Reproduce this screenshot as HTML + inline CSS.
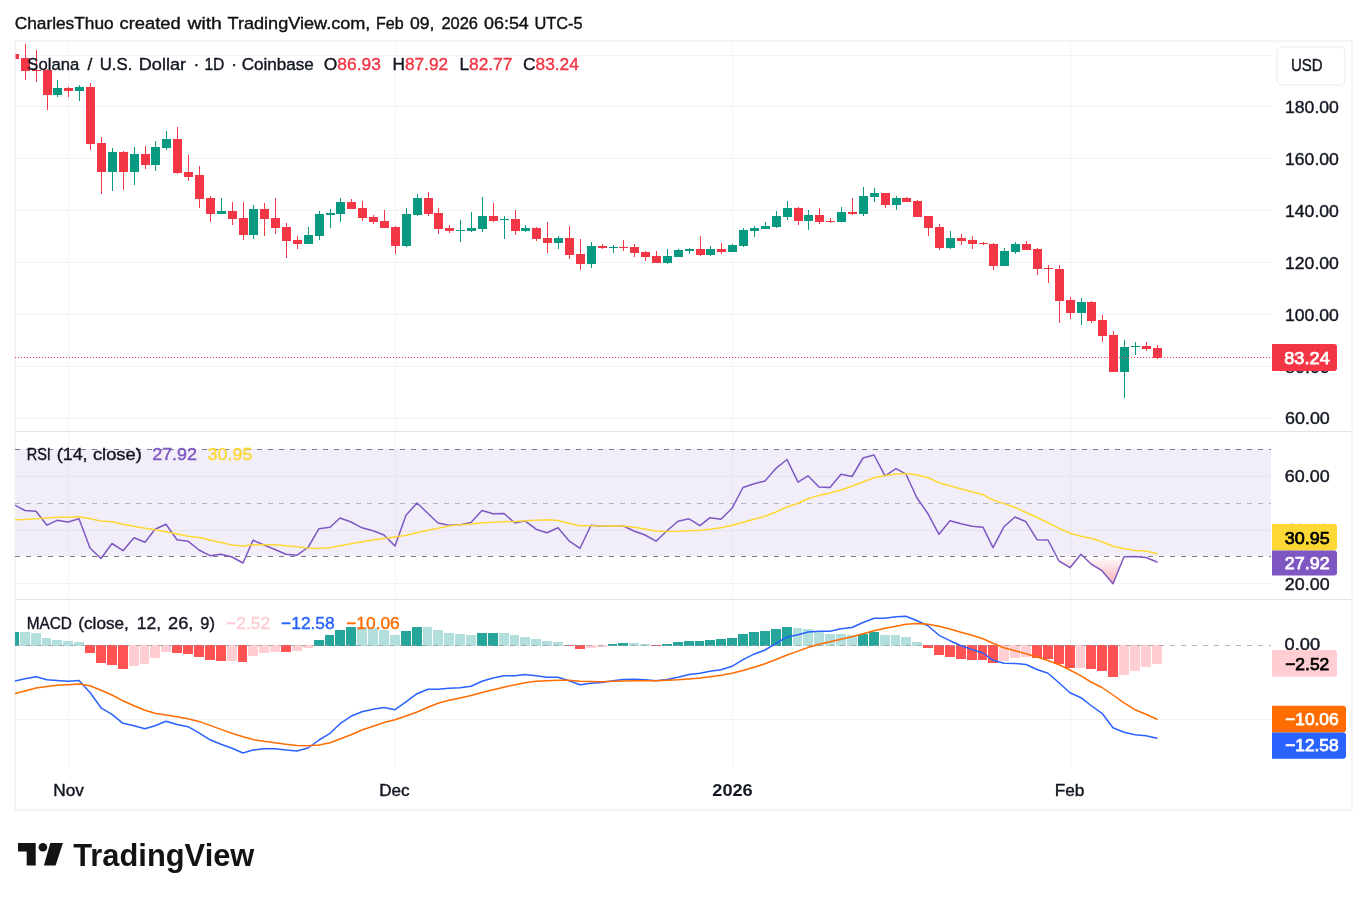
<!DOCTYPE html>
<html lang="en"><head><meta charset="utf-8"><title>SOLUSD chart</title><style>html,body{margin:0;padding:0;background:#fff}svg{display:block}</style></head><body>
<svg width="1367" height="900" viewBox="0 0 1367 900" font-family='"Liberation Sans", sans-serif'>
<defs><linearGradient id="os" x1="0" y1="556" x2="0" y2="586" gradientUnits="userSpaceOnUse"><stop offset="0" stop-color="#f23645" stop-opacity="0"/><stop offset="1" stop-color="#f23645" stop-opacity="0.42"/></linearGradient>
<clipPath id="plot"><rect x="15" y="41" width="1256" height="768"/></clipPath></defs>
<rect width="1367" height="900" fill="#fff"/>
<text y="28.5" font-size="17.4" fill="#111" stroke="#111" stroke-width="0.4"><tspan x="14.7" textLength="99.0" lengthAdjust="spacingAndGlyphs">CharlesThuo</tspan> <tspan x="119.6" textLength="61.1" lengthAdjust="spacingAndGlyphs">created</tspan> <tspan x="187.4" textLength="34.5" lengthAdjust="spacingAndGlyphs">with</tspan> <tspan x="227.5" textLength="142.9" lengthAdjust="spacingAndGlyphs">TradingView.com,</tspan> <tspan x="376.0" textLength="27.7" lengthAdjust="spacingAndGlyphs">Feb</tspan> <tspan x="410.0" textLength="24.5" lengthAdjust="spacingAndGlyphs">09,</tspan> <tspan x="441.4" textLength="36.5" lengthAdjust="spacingAndGlyphs">2026</tspan> <tspan x="484.0" textLength="44.8" lengthAdjust="spacingAndGlyphs">06:54</tspan> <tspan x="534.4" textLength="48.2" lengthAdjust="spacingAndGlyphs">UTC-5</tspan></text>
<rect x="15" y="449" width="1256" height="107" fill="#f2eef9"/>
<g fill="#f2f3f4" shape-rendering="crispEdges">
<rect x="16" y="55" width="1255" height="1"/>
<rect x="16" y="106" width="1255" height="1"/>
<rect x="16" y="158" width="1255" height="1"/>
<rect x="16" y="210" width="1255" height="1"/>
<rect x="16" y="262" width="1255" height="1"/>
<rect x="16" y="314" width="1255" height="1"/>
<rect x="16" y="366" width="1255" height="1"/>
<rect x="16" y="418" width="1255" height="1"/>
<rect x="16" y="476" width="1255" height="1"/>
<rect x="16" y="530" width="1255" height="1"/>
<rect x="16" y="583" width="1255" height="1"/>
<rect x="16" y="719" width="1255" height="1"/>
<rect x="68" y="42" width="1" height="726"/>
<rect x="395" y="42" width="1" height="726"/>
<rect x="732" y="42" width="1" height="726"/>
<rect x="1070" y="42" width="1" height="726"/>
</g>
<g fill="#e6e3ee" shape-rendering="crispEdges">
<rect x="16" y="476" width="1255" height="1"/>
<rect x="16" y="530" width="1255" height="1"/>
<rect x="68" y="449" width="1" height="107"/>
<rect x="395" y="449" width="1" height="107"/>
<rect x="732" y="449" width="1" height="107"/>
<rect x="1070" y="449" width="1" height="107"/>
</g>
<g fill="#e0e3eb" shape-rendering="crispEdges"><rect x="16" y="431" width="1336" height="1"/><rect x="16" y="599" width="1336" height="1"/></g>
<rect x="15" y="41" width="1337" height="769" fill="none" stroke="#f4f4f4" stroke-width="2"/>
<g clip-path="url(#plot)" shape-rendering="crispEdges">
<rect x="15" y="54" width="4" height="5" fill="#f23645"/><rect x="15" y="54" width="1" height="5" fill="#fff" opacity="0.5"/>
<rect x="25" y="44" width="1" height="36" fill="#f23645"/><rect x="21" y="58" width="9" height="13" fill="#f23645"/>
<rect x="36" y="50" width="1" height="32" fill="#f23645"/><rect x="32" y="70" width="9" height="1" fill="#f23645"/>
<rect x="47" y="69" width="1" height="41" fill="#f23645"/><rect x="43" y="70" width="9" height="25" fill="#f23645"/>
<rect x="57" y="80" width="1" height="17" fill="#089981"/><rect x="53" y="88" width="9" height="7" fill="#089981"/>
<rect x="68" y="87" width="1" height="10" fill="#f23645"/><rect x="64" y="88" width="9" height="3" fill="#f23645"/>
<rect x="79" y="85" width="1" height="16" fill="#089981"/><rect x="75" y="87" width="9" height="4" fill="#089981"/>
<rect x="90" y="83" width="1" height="67" fill="#f23645"/><rect x="86" y="87" width="9" height="57" fill="#f23645"/>
<rect x="101" y="137" width="1" height="57" fill="#f23645"/><rect x="97" y="143" width="9" height="29" fill="#f23645"/>
<rect x="112" y="148" width="1" height="43" fill="#089981"/><rect x="108" y="152" width="9" height="20" fill="#089981"/>
<rect x="123" y="151" width="1" height="39" fill="#f23645"/><rect x="119" y="152" width="9" height="20" fill="#f23645"/>
<rect x="134" y="147" width="1" height="38" fill="#089981"/><rect x="130" y="154" width="9" height="18" fill="#089981"/>
<rect x="145" y="146" width="1" height="23" fill="#f23645"/><rect x="141" y="154" width="9" height="11" fill="#f23645"/>
<rect x="155" y="141" width="1" height="30" fill="#089981"/><rect x="151" y="147" width="9" height="18" fill="#089981"/>
<rect x="166" y="131" width="1" height="19" fill="#089981"/><rect x="162" y="139" width="9" height="9" fill="#089981"/>
<rect x="177" y="127" width="1" height="47" fill="#f23645"/><rect x="173" y="139" width="9" height="34" fill="#f23645"/>
<rect x="188" y="155" width="1" height="26" fill="#f23645"/><rect x="184" y="172" width="9" height="5" fill="#f23645"/>
<rect x="199" y="166" width="1" height="42" fill="#f23645"/><rect x="195" y="175" width="9" height="24" fill="#f23645"/>
<rect x="210" y="196" width="1" height="26" fill="#f23645"/><rect x="206" y="198" width="9" height="16" fill="#f23645"/>
<rect x="221" y="198" width="1" height="16" fill="#089981"/><rect x="217" y="211" width="9" height="3" fill="#089981"/>
<rect x="232" y="202" width="1" height="23" fill="#f23645"/><rect x="228" y="211" width="9" height="8" fill="#f23645"/>
<rect x="243" y="202" width="1" height="38" fill="#f23645"/><rect x="239" y="218" width="9" height="17" fill="#f23645"/>
<rect x="253" y="205" width="1" height="34" fill="#089981"/><rect x="249" y="209" width="9" height="26" fill="#089981"/>
<rect x="264" y="203" width="1" height="33" fill="#f23645"/><rect x="260" y="209" width="9" height="10" fill="#f23645"/>
<rect x="275" y="198" width="1" height="36" fill="#f23645"/><rect x="271" y="218" width="9" height="10" fill="#f23645"/>
<rect x="286" y="223" width="1" height="35" fill="#f23645"/><rect x="282" y="227" width="9" height="14" fill="#f23645"/>
<rect x="297" y="236" width="1" height="13" fill="#f23645"/><rect x="293" y="240" width="9" height="4" fill="#f23645"/>
<rect x="308" y="227" width="1" height="17" fill="#089981"/><rect x="304" y="235" width="9" height="9" fill="#089981"/>
<rect x="319" y="211" width="1" height="29" fill="#089981"/><rect x="315" y="214" width="9" height="22" fill="#089981"/>
<rect x="330" y="209" width="1" height="19" fill="#089981"/><rect x="326" y="213" width="9" height="2" fill="#089981"/>
<rect x="340" y="198" width="1" height="24" fill="#089981"/><rect x="336" y="202" width="9" height="12" fill="#089981"/>
<rect x="351" y="199" width="1" height="10" fill="#f23645"/><rect x="347" y="202" width="9" height="7" fill="#f23645"/>
<rect x="362" y="201" width="1" height="20" fill="#f23645"/><rect x="358" y="208" width="9" height="10" fill="#f23645"/>
<rect x="373" y="215" width="1" height="9" fill="#f23645"/><rect x="369" y="217" width="9" height="5" fill="#f23645"/>
<rect x="384" y="210" width="1" height="18" fill="#f23645"/><rect x="380" y="221" width="9" height="7" fill="#f23645"/>
<rect x="395" y="226" width="1" height="28" fill="#f23645"/><rect x="391" y="227" width="9" height="19" fill="#f23645"/>
<rect x="406" y="208" width="1" height="39" fill="#089981"/><rect x="402" y="214" width="9" height="32" fill="#089981"/>
<rect x="417" y="194" width="1" height="22" fill="#089981"/><rect x="413" y="198" width="9" height="17" fill="#089981"/>
<rect x="428" y="192" width="1" height="24" fill="#f23645"/><rect x="424" y="198" width="9" height="16" fill="#f23645"/>
<rect x="438" y="208" width="1" height="26" fill="#f23645"/><rect x="434" y="213" width="9" height="16" fill="#f23645"/>
<rect x="449" y="225" width="1" height="8" fill="#f23645"/><rect x="445" y="228" width="9" height="3" fill="#f23645"/>
<rect x="460" y="220" width="1" height="22" fill="#089981"/><rect x="456" y="230" width="9" height="1" fill="#089981"/>
<rect x="471" y="212" width="1" height="20" fill="#089981"/><rect x="467" y="228" width="9" height="3" fill="#089981"/>
<rect x="482" y="197" width="1" height="35" fill="#089981"/><rect x="478" y="216" width="9" height="13" fill="#089981"/>
<rect x="493" y="203" width="1" height="19" fill="#f23645"/><rect x="489" y="216" width="9" height="5" fill="#f23645"/>
<rect x="504" y="216" width="1" height="23" fill="#089981"/><rect x="500" y="219" width="9" height="1" fill="#089981"/>
<rect x="515" y="210" width="1" height="25" fill="#f23645"/><rect x="511" y="219" width="9" height="12" fill="#f23645"/>
<rect x="525" y="225" width="1" height="7" fill="#089981"/><rect x="521" y="228" width="9" height="3" fill="#089981"/>
<rect x="536" y="227" width="1" height="14" fill="#f23645"/><rect x="532" y="228" width="9" height="11" fill="#f23645"/>
<rect x="547" y="222" width="1" height="31" fill="#f23645"/><rect x="543" y="238" width="9" height="5" fill="#f23645"/>
<rect x="558" y="236" width="1" height="13" fill="#089981"/><rect x="554" y="238" width="9" height="5" fill="#089981"/>
<rect x="569" y="226" width="1" height="33" fill="#f23645"/><rect x="565" y="238" width="9" height="17" fill="#f23645"/>
<rect x="580" y="239" width="1" height="31" fill="#f23645"/><rect x="576" y="254" width="9" height="10" fill="#f23645"/>
<rect x="591" y="242" width="1" height="26" fill="#089981"/><rect x="587" y="246" width="9" height="18" fill="#089981"/>
<rect x="602" y="244" width="1" height="5" fill="#f23645"/><rect x="598" y="246" width="9" height="2" fill="#f23645"/>
<rect x="613" y="245" width="1" height="8" fill="#089981"/><rect x="609" y="247" width="9" height="1" fill="#089981"/>
<rect x="623" y="240" width="1" height="11" fill="#f23645"/><rect x="619" y="247" width="9" height="1" fill="#f23645"/>
<rect x="634" y="244" width="1" height="13" fill="#f23645"/><rect x="630" y="247" width="9" height="6" fill="#f23645"/>
<rect x="645" y="251" width="1" height="10" fill="#f23645"/><rect x="641" y="252" width="9" height="5" fill="#f23645"/>
<rect x="656" y="251" width="1" height="12" fill="#f23645"/><rect x="652" y="256" width="9" height="7" fill="#f23645"/>
<rect x="667" y="249" width="1" height="15" fill="#089981"/><rect x="663" y="256" width="9" height="7" fill="#089981"/>
<rect x="678" y="249" width="1" height="8" fill="#089981"/><rect x="674" y="250" width="9" height="7" fill="#089981"/>
<rect x="689" y="248" width="1" height="6" fill="#089981"/><rect x="685" y="249" width="9" height="2" fill="#089981"/>
<rect x="700" y="236" width="1" height="20" fill="#f23645"/><rect x="696" y="249" width="9" height="6" fill="#f23645"/>
<rect x="710" y="246" width="1" height="10" fill="#089981"/><rect x="706" y="249" width="9" height="6" fill="#089981"/>
<rect x="721" y="243" width="1" height="11" fill="#f23645"/><rect x="717" y="249" width="9" height="3" fill="#f23645"/>
<rect x="732" y="244" width="1" height="8" fill="#089981"/><rect x="728" y="245" width="9" height="7" fill="#089981"/>
<rect x="743" y="228" width="1" height="19" fill="#089981"/><rect x="739" y="230" width="9" height="16" fill="#089981"/>
<rect x="754" y="226" width="1" height="11" fill="#089981"/><rect x="750" y="228" width="9" height="3" fill="#089981"/>
<rect x="765" y="222" width="1" height="7" fill="#089981"/><rect x="761" y="226" width="9" height="3" fill="#089981"/>
<rect x="776" y="211" width="1" height="17" fill="#089981"/><rect x="772" y="216" width="9" height="11" fill="#089981"/>
<rect x="787" y="201" width="1" height="19" fill="#089981"/><rect x="783" y="208" width="9" height="9" fill="#089981"/>
<rect x="798" y="207" width="1" height="18" fill="#f23645"/><rect x="794" y="208" width="9" height="13" fill="#f23645"/>
<rect x="808" y="210" width="1" height="20" fill="#089981"/><rect x="804" y="215" width="9" height="6" fill="#089981"/>
<rect x="819" y="208" width="1" height="16" fill="#f23645"/><rect x="815" y="215" width="9" height="7" fill="#f23645"/>
<rect x="830" y="218" width="1" height="5" fill="#f23645"/><rect x="826" y="221" width="9" height="1" fill="#f23645"/>
<rect x="841" y="207" width="1" height="15" fill="#089981"/><rect x="837" y="212" width="9" height="10" fill="#089981"/>
<rect x="852" y="198" width="1" height="17" fill="#f23645"/><rect x="848" y="212" width="9" height="2" fill="#f23645"/>
<rect x="863" y="187" width="1" height="29" fill="#089981"/><rect x="859" y="196" width="9" height="18" fill="#089981"/>
<rect x="874" y="188" width="1" height="14" fill="#089981"/><rect x="870" y="193" width="9" height="4" fill="#089981"/>
<rect x="885" y="193" width="1" height="15" fill="#f23645"/><rect x="881" y="193" width="9" height="12" fill="#f23645"/>
<rect x="896" y="196" width="1" height="14" fill="#089981"/><rect x="892" y="198" width="9" height="7" fill="#089981"/>
<rect x="906" y="197" width="1" height="5" fill="#f23645"/><rect x="902" y="198" width="9" height="4" fill="#f23645"/>
<rect x="917" y="200" width="1" height="17" fill="#f23645"/><rect x="913" y="201" width="9" height="16" fill="#f23645"/>
<rect x="928" y="216" width="1" height="20" fill="#f23645"/><rect x="924" y="216" width="9" height="12" fill="#f23645"/>
<rect x="939" y="224" width="1" height="26" fill="#f23645"/><rect x="935" y="227" width="9" height="21" fill="#f23645"/>
<rect x="950" y="231" width="1" height="18" fill="#089981"/><rect x="946" y="238" width="9" height="10" fill="#089981"/>
<rect x="961" y="234" width="1" height="11" fill="#f23645"/><rect x="957" y="238" width="9" height="3" fill="#f23645"/>
<rect x="972" y="236" width="1" height="13" fill="#f23645"/><rect x="968" y="240" width="9" height="4" fill="#f23645"/>
<rect x="983" y="242" width="1" height="3" fill="#f23645"/><rect x="979" y="243" width="9" height="1" fill="#f23645"/>
<rect x="993" y="243" width="1" height="27" fill="#f23645"/><rect x="989" y="244" width="9" height="22" fill="#f23645"/>
<rect x="1004" y="248" width="1" height="18" fill="#089981"/><rect x="1000" y="251" width="9" height="15" fill="#089981"/>
<rect x="1015" y="242" width="1" height="12" fill="#089981"/><rect x="1011" y="244" width="9" height="8" fill="#089981"/>
<rect x="1026" y="241" width="1" height="9" fill="#f23645"/><rect x="1022" y="244" width="9" height="6" fill="#f23645"/>
<rect x="1037" y="248" width="1" height="27" fill="#f23645"/><rect x="1033" y="249" width="9" height="20" fill="#f23645"/>
<rect x="1048" y="265" width="1" height="18" fill="#f23645"/><rect x="1044" y="268" width="9" height="1" fill="#f23645"/>
<rect x="1059" y="265" width="1" height="58" fill="#f23645"/><rect x="1055" y="269" width="9" height="32" fill="#f23645"/>
<rect x="1070" y="297" width="1" height="22" fill="#f23645"/><rect x="1066" y="300" width="9" height="13" fill="#f23645"/>
<rect x="1081" y="298" width="1" height="27" fill="#089981"/><rect x="1077" y="302" width="9" height="11" fill="#089981"/>
<rect x="1091" y="301" width="1" height="22" fill="#f23645"/><rect x="1087" y="302" width="9" height="19" fill="#f23645"/>
<rect x="1102" y="315" width="1" height="27" fill="#f23645"/><rect x="1098" y="320" width="9" height="16" fill="#f23645"/>
<rect x="1113" y="331" width="1" height="41" fill="#f23645"/><rect x="1109" y="335" width="9" height="37" fill="#f23645"/>
<rect x="1124" y="340" width="1" height="58" fill="#089981"/><rect x="1120" y="347" width="9" height="25" fill="#089981"/>
<rect x="1135" y="342" width="1" height="13" fill="#089981"/><rect x="1131" y="346" width="9" height="1" fill="#089981"/>
<rect x="1146" y="342" width="1" height="9" fill="#f23645"/><rect x="1142" y="346" width="9" height="3" fill="#f23645"/>
<rect x="1157" y="345" width="1" height="14" fill="#f23645"/><rect x="1153" y="348" width="9" height="10" fill="#f23645"/>
</g>
<g fill="#f23645" shape-rendering="crispEdges">
<path d="M15 357h1v1h-1zM18 357h1v1h-1zM21 357h1v1h-1zM24 357h1v1h-1zM27 357h1v1h-1zM30 357h1v1h-1zM33 357h1v1h-1zM36 357h1v1h-1zM39 357h1v1h-1zM42 357h1v1h-1zM45 357h1v1h-1zM48 357h1v1h-1zM51 357h1v1h-1zM54 357h1v1h-1zM57 357h1v1h-1zM60 357h1v1h-1zM63 357h1v1h-1zM66 357h1v1h-1zM69 357h1v1h-1zM72 357h1v1h-1zM75 357h1v1h-1zM78 357h1v1h-1zM81 357h1v1h-1zM84 357h1v1h-1zM87 357h1v1h-1zM90 357h1v1h-1zM93 357h1v1h-1zM96 357h1v1h-1zM99 357h1v1h-1zM102 357h1v1h-1zM105 357h1v1h-1zM108 357h1v1h-1zM111 357h1v1h-1zM114 357h1v1h-1zM117 357h1v1h-1zM120 357h1v1h-1zM123 357h1v1h-1zM126 357h1v1h-1zM129 357h1v1h-1zM132 357h1v1h-1zM135 357h1v1h-1zM138 357h1v1h-1zM141 357h1v1h-1zM144 357h1v1h-1zM147 357h1v1h-1zM150 357h1v1h-1zM153 357h1v1h-1zM156 357h1v1h-1zM159 357h1v1h-1zM162 357h1v1h-1zM165 357h1v1h-1zM168 357h1v1h-1zM171 357h1v1h-1zM174 357h1v1h-1zM177 357h1v1h-1zM180 357h1v1h-1zM183 357h1v1h-1zM186 357h1v1h-1zM189 357h1v1h-1zM192 357h1v1h-1zM195 357h1v1h-1zM198 357h1v1h-1zM201 357h1v1h-1zM204 357h1v1h-1zM207 357h1v1h-1zM210 357h1v1h-1zM213 357h1v1h-1zM216 357h1v1h-1zM219 357h1v1h-1zM222 357h1v1h-1zM225 357h1v1h-1zM228 357h1v1h-1zM231 357h1v1h-1zM234 357h1v1h-1zM237 357h1v1h-1zM240 357h1v1h-1zM243 357h1v1h-1zM246 357h1v1h-1zM249 357h1v1h-1zM252 357h1v1h-1zM255 357h1v1h-1zM258 357h1v1h-1zM261 357h1v1h-1zM264 357h1v1h-1zM267 357h1v1h-1zM270 357h1v1h-1zM273 357h1v1h-1zM276 357h1v1h-1zM279 357h1v1h-1zM282 357h1v1h-1zM285 357h1v1h-1zM288 357h1v1h-1zM291 357h1v1h-1zM294 357h1v1h-1zM297 357h1v1h-1zM300 357h1v1h-1zM303 357h1v1h-1zM306 357h1v1h-1zM309 357h1v1h-1zM312 357h1v1h-1zM315 357h1v1h-1zM318 357h1v1h-1zM321 357h1v1h-1zM324 357h1v1h-1zM327 357h1v1h-1zM330 357h1v1h-1zM333 357h1v1h-1zM336 357h1v1h-1zM339 357h1v1h-1zM342 357h1v1h-1zM345 357h1v1h-1zM348 357h1v1h-1zM351 357h1v1h-1zM354 357h1v1h-1zM357 357h1v1h-1zM360 357h1v1h-1zM363 357h1v1h-1zM366 357h1v1h-1zM369 357h1v1h-1zM372 357h1v1h-1zM375 357h1v1h-1zM378 357h1v1h-1zM381 357h1v1h-1zM384 357h1v1h-1zM387 357h1v1h-1zM390 357h1v1h-1zM393 357h1v1h-1zM396 357h1v1h-1zM399 357h1v1h-1zM402 357h1v1h-1zM405 357h1v1h-1zM408 357h1v1h-1zM411 357h1v1h-1zM414 357h1v1h-1zM417 357h1v1h-1zM420 357h1v1h-1zM423 357h1v1h-1zM426 357h1v1h-1zM429 357h1v1h-1zM432 357h1v1h-1zM435 357h1v1h-1zM438 357h1v1h-1zM441 357h1v1h-1zM444 357h1v1h-1zM447 357h1v1h-1zM450 357h1v1h-1zM453 357h1v1h-1zM456 357h1v1h-1zM459 357h1v1h-1zM462 357h1v1h-1zM465 357h1v1h-1zM468 357h1v1h-1zM471 357h1v1h-1zM474 357h1v1h-1zM477 357h1v1h-1zM480 357h1v1h-1zM483 357h1v1h-1zM486 357h1v1h-1zM489 357h1v1h-1zM492 357h1v1h-1zM495 357h1v1h-1zM498 357h1v1h-1zM501 357h1v1h-1zM504 357h1v1h-1zM507 357h1v1h-1zM510 357h1v1h-1zM513 357h1v1h-1zM516 357h1v1h-1zM519 357h1v1h-1zM522 357h1v1h-1zM525 357h1v1h-1zM528 357h1v1h-1zM531 357h1v1h-1zM534 357h1v1h-1zM537 357h1v1h-1zM540 357h1v1h-1zM543 357h1v1h-1zM546 357h1v1h-1zM549 357h1v1h-1zM552 357h1v1h-1zM555 357h1v1h-1zM558 357h1v1h-1zM561 357h1v1h-1zM564 357h1v1h-1zM567 357h1v1h-1zM570 357h1v1h-1zM573 357h1v1h-1zM576 357h1v1h-1zM579 357h1v1h-1zM582 357h1v1h-1zM585 357h1v1h-1zM588 357h1v1h-1zM591 357h1v1h-1zM594 357h1v1h-1zM597 357h1v1h-1zM600 357h1v1h-1zM603 357h1v1h-1zM606 357h1v1h-1zM609 357h1v1h-1zM612 357h1v1h-1zM615 357h1v1h-1zM618 357h1v1h-1zM621 357h1v1h-1zM624 357h1v1h-1zM627 357h1v1h-1zM630 357h1v1h-1zM633 357h1v1h-1zM636 357h1v1h-1zM639 357h1v1h-1zM642 357h1v1h-1zM645 357h1v1h-1zM648 357h1v1h-1zM651 357h1v1h-1zM654 357h1v1h-1zM657 357h1v1h-1zM660 357h1v1h-1zM663 357h1v1h-1zM666 357h1v1h-1zM669 357h1v1h-1zM672 357h1v1h-1zM675 357h1v1h-1zM678 357h1v1h-1zM681 357h1v1h-1zM684 357h1v1h-1zM687 357h1v1h-1zM690 357h1v1h-1zM693 357h1v1h-1zM696 357h1v1h-1zM699 357h1v1h-1zM702 357h1v1h-1zM705 357h1v1h-1zM708 357h1v1h-1zM711 357h1v1h-1zM714 357h1v1h-1zM717 357h1v1h-1zM720 357h1v1h-1zM723 357h1v1h-1zM726 357h1v1h-1zM729 357h1v1h-1zM732 357h1v1h-1zM735 357h1v1h-1zM738 357h1v1h-1zM741 357h1v1h-1zM744 357h1v1h-1zM747 357h1v1h-1zM750 357h1v1h-1zM753 357h1v1h-1zM756 357h1v1h-1zM759 357h1v1h-1zM762 357h1v1h-1zM765 357h1v1h-1zM768 357h1v1h-1zM771 357h1v1h-1zM774 357h1v1h-1zM777 357h1v1h-1zM780 357h1v1h-1zM783 357h1v1h-1zM786 357h1v1h-1zM789 357h1v1h-1zM792 357h1v1h-1zM795 357h1v1h-1zM798 357h1v1h-1zM801 357h1v1h-1zM804 357h1v1h-1zM807 357h1v1h-1zM810 357h1v1h-1zM813 357h1v1h-1zM816 357h1v1h-1zM819 357h1v1h-1zM822 357h1v1h-1zM825 357h1v1h-1zM828 357h1v1h-1zM831 357h1v1h-1zM834 357h1v1h-1zM837 357h1v1h-1zM840 357h1v1h-1zM843 357h1v1h-1zM846 357h1v1h-1zM849 357h1v1h-1zM852 357h1v1h-1zM855 357h1v1h-1zM858 357h1v1h-1zM861 357h1v1h-1zM864 357h1v1h-1zM867 357h1v1h-1zM870 357h1v1h-1zM873 357h1v1h-1zM876 357h1v1h-1zM879 357h1v1h-1zM882 357h1v1h-1zM885 357h1v1h-1zM888 357h1v1h-1zM891 357h1v1h-1zM894 357h1v1h-1zM897 357h1v1h-1zM900 357h1v1h-1zM903 357h1v1h-1zM906 357h1v1h-1zM909 357h1v1h-1zM912 357h1v1h-1zM915 357h1v1h-1zM918 357h1v1h-1zM921 357h1v1h-1zM924 357h1v1h-1zM927 357h1v1h-1zM930 357h1v1h-1zM933 357h1v1h-1zM936 357h1v1h-1zM939 357h1v1h-1zM942 357h1v1h-1zM945 357h1v1h-1zM948 357h1v1h-1zM951 357h1v1h-1zM954 357h1v1h-1zM957 357h1v1h-1zM960 357h1v1h-1zM963 357h1v1h-1zM966 357h1v1h-1zM969 357h1v1h-1zM972 357h1v1h-1zM975 357h1v1h-1zM978 357h1v1h-1zM981 357h1v1h-1zM984 357h1v1h-1zM987 357h1v1h-1zM990 357h1v1h-1zM993 357h1v1h-1zM996 357h1v1h-1zM999 357h1v1h-1zM1002 357h1v1h-1zM1005 357h1v1h-1zM1008 357h1v1h-1zM1011 357h1v1h-1zM1014 357h1v1h-1zM1017 357h1v1h-1zM1020 357h1v1h-1zM1023 357h1v1h-1zM1026 357h1v1h-1zM1029 357h1v1h-1zM1032 357h1v1h-1zM1035 357h1v1h-1zM1038 357h1v1h-1zM1041 357h1v1h-1zM1044 357h1v1h-1zM1047 357h1v1h-1zM1050 357h1v1h-1zM1053 357h1v1h-1zM1056 357h1v1h-1zM1059 357h1v1h-1zM1062 357h1v1h-1zM1065 357h1v1h-1zM1068 357h1v1h-1zM1071 357h1v1h-1zM1074 357h1v1h-1zM1077 357h1v1h-1zM1080 357h1v1h-1zM1083 357h1v1h-1zM1086 357h1v1h-1zM1089 357h1v1h-1zM1092 357h1v1h-1zM1095 357h1v1h-1zM1098 357h1v1h-1zM1101 357h1v1h-1zM1104 357h1v1h-1zM1107 357h1v1h-1zM1110 357h1v1h-1zM1113 357h1v1h-1zM1116 357h1v1h-1zM1119 357h1v1h-1zM1122 357h1v1h-1zM1125 357h1v1h-1zM1128 357h1v1h-1zM1131 357h1v1h-1zM1134 357h1v1h-1zM1137 357h1v1h-1zM1140 357h1v1h-1zM1143 357h1v1h-1zM1146 357h1v1h-1zM1149 357h1v1h-1zM1152 357h1v1h-1zM1155 357h1v1h-1zM1158 357h1v1h-1zM1161 357h1v1h-1zM1164 357h1v1h-1zM1167 357h1v1h-1zM1170 357h1v1h-1zM1173 357h1v1h-1zM1176 357h1v1h-1zM1179 357h1v1h-1zM1182 357h1v1h-1zM1185 357h1v1h-1zM1188 357h1v1h-1zM1191 357h1v1h-1zM1194 357h1v1h-1zM1197 357h1v1h-1zM1200 357h1v1h-1zM1203 357h1v1h-1zM1206 357h1v1h-1zM1209 357h1v1h-1zM1212 357h1v1h-1zM1215 357h1v1h-1zM1218 357h1v1h-1zM1221 357h1v1h-1zM1224 357h1v1h-1zM1227 357h1v1h-1zM1230 357h1v1h-1zM1233 357h1v1h-1zM1236 357h1v1h-1zM1239 357h1v1h-1zM1242 357h1v1h-1zM1245 357h1v1h-1zM1248 357h1v1h-1zM1251 357h1v1h-1zM1254 357h1v1h-1zM1257 357h1v1h-1zM1260 357h1v1h-1zM1263 357h1v1h-1zM1266 357h1v1h-1zM1269 357h1v1h-1z"/></g>
<text y="69.8" font-size="17.4" fill="#131722" stroke="#131722" stroke-width="0.4"><tspan x="27.3" textLength="51.9" lengthAdjust="spacingAndGlyphs">Solana</tspan> <tspan x="87.5">/</tspan> <tspan x="99.7" textLength="32.6" lengthAdjust="spacingAndGlyphs">U.S.</tspan> <tspan x="138.8" textLength="47.2" lengthAdjust="spacingAndGlyphs">Dollar</tspan> <tspan x="193.5">·</tspan> <tspan x="204.4" textLength="20.0" lengthAdjust="spacingAndGlyphs">1D</tspan> <tspan x="231.2">·</tspan> <tspan x="241.7" textLength="72.1" lengthAdjust="spacingAndGlyphs">Coinbase</tspan></text>
<text x="323.8" y="69.8" font-size="17.4" fill="#131722" stroke="#131722" stroke-width="0.4" textLength="57.1" lengthAdjust="spacingAndGlyphs">O<tspan fill="#f23645" stroke="#f23645">86.93</tspan></text>
<text x="392.5" y="69.8" font-size="17.4" fill="#131722" stroke="#131722" stroke-width="0.4" textLength="55.6" lengthAdjust="spacingAndGlyphs">H<tspan fill="#f23645" stroke="#f23645">87.92</tspan></text>
<text x="459.4" y="69.8" font-size="17.4" fill="#131722" stroke="#131722" stroke-width="0.4" textLength="53.0" lengthAdjust="spacingAndGlyphs">L<tspan fill="#f23645" stroke="#f23645">82.77</tspan></text>
<text x="523.0" y="69.8" font-size="17.4" fill="#131722" stroke="#131722" stroke-width="0.4" textLength="55.9" lengthAdjust="spacingAndGlyphs">C<tspan fill="#f23645" stroke="#f23645">83.24</tspan></text>
<g clip-path="url(#plot)">
<path d="M98.4 556 L101.0 558.5 L102.8 556 Z M228.1 556 L232.0 557.0 L243.0 563.0 L246.1 556 Z M1056.4 556 L1059.0 561.0 L1070.0 567.7 L1079.5 556 Z M1082.8 556 L1091.0 564.0 L1102.0 570.7 L1113.0 583.7 L1124.0 556.8 L1135.0 556.5 L1146.0 557.5 L1157.0 562.0 L1157.0 556 Z" fill="url(#os)"/>
<g shape-rendering="crispEdges"><path d="M15 449.5H1271" stroke="#787b86" stroke-width="1" stroke-dasharray="5 6" fill="none"/><path d="M15 556.5H1271" stroke="#787b86" stroke-width="1" stroke-dasharray="5 6" fill="none"/><path d="M15 503.5H1271" stroke="#b4b4c0" stroke-width="1" stroke-dasharray="5 6" fill="none"/></g>
<path d="M14.0 504.7 L25.0 510.5 L36.0 511.2 L47.0 525.2 L57.0 520.3 L68.0 522.0 L79.0 518.8 L90.0 548.0 L101.0 558.5 L112.0 543.5 L123.0 550.7 L134.0 537.8 L145.0 542.2 L155.0 529.3 L166.0 524.2 L177.0 539.7 L188.0 541.2 L199.0 550.0 L210.0 555.7 L221.0 554.2 L232.0 557.0 L243.0 563.0 L253.0 540.3 L264.0 545.0 L275.0 549.5 L286.0 554.2 L297.0 555.2 L308.0 547.5 L319.0 528.7 L330.0 527.3 L340.0 518.0 L351.0 522.0 L362.0 527.8 L373.0 530.7 L384.0 535.0 L395.0 546.0 L406.0 515.3 L417.0 503.0 L428.0 513.5 L438.0 523.0 L449.0 525.3 L460.0 524.7 L471.0 522.5 L482.0 510.5 L493.0 513.8 L504.0 513.5 L515.0 523.0 L525.0 520.8 L536.0 529.2 L547.0 532.8 L558.0 527.8 L569.0 540.8 L580.0 548.3 L591.0 525.3 L602.0 526.3 L613.0 525.7 L623.0 525.7 L634.0 531.0 L645.0 535.0 L656.0 541.2 L667.0 530.8 L678.0 521.2 L689.0 518.8 L700.0 525.7 L710.0 517.7 L721.0 519.3 L732.0 508.3 L743.0 487.5 L754.0 483.7 L765.0 481.0 L776.0 468.3 L787.0 459.5 L798.0 482.2 L808.0 475.8 L819.0 487.0 L830.0 487.5 L841.0 474.3 L852.0 476.5 L863.0 458.0 L874.0 455.0 L885.0 475.8 L896.0 468.7 L906.0 474.2 L917.0 498.0 L928.0 513.8 L939.0 534.3 L950.0 520.8 L961.0 523.8 L972.0 526.3 L983.0 527.2 L993.0 547.7 L1004.0 526.7 L1015.0 517.0 L1026.0 521.8 L1037.0 539.7 L1048.0 540.0 L1059.0 561.0 L1070.0 567.7 L1081.0 554.2 L1091.0 564.0 L1102.0 570.7 L1113.0 583.7 L1124.0 556.8 L1135.0 556.5 L1146.0 557.5 L1157.0 562.0" fill="none" stroke="#7e57c2" stroke-width="1.5" stroke-linejoin="round" stroke-linecap="round"/>
<path d="M14.0 519.7 L25.0 519.5 L36.0 518.7 L47.0 518.0 L57.0 517.3 L68.0 517.2 L79.0 516.7 L90.0 518.8 L101.0 521.0 L112.0 521.8 L123.0 524.2 L134.0 526.2 L145.0 528.2 L155.0 529.8 L166.0 531.7 L177.0 534.0 L188.0 536.2 L199.0 537.5 L210.0 540.0 L221.0 542.5 L232.0 545.0 L243.0 546.0 L253.0 544.8 L264.0 544.8 L275.0 544.8 L286.0 545.8 L297.0 546.8 L308.0 548.0 L319.0 548.5 L330.0 547.8 L340.0 545.8 L351.0 543.7 L362.0 541.7 L373.0 540.0 L384.0 538.5 L395.0 537.0 L406.0 535.3 L417.0 532.8 L428.0 530.2 L438.0 528.2 L449.0 526.0 L460.0 524.8 L471.0 524.0 L482.0 522.8 L493.0 522.3 L504.0 521.7 L515.0 521.5 L525.0 520.8 L536.0 520.3 L547.0 519.8 L558.0 520.5 L569.0 523.3 L580.0 525.7 L591.0 525.8 L602.0 526.0 L613.0 525.8 L623.0 526.0 L634.0 527.3 L645.0 529.0 L656.0 531.0 L667.0 531.5 L678.0 531.3 L689.0 530.7 L700.0 530.2 L710.0 529.3 L721.0 527.8 L732.0 525.2 L743.0 522.3 L754.0 519.2 L765.0 516.3 L776.0 512.0 L787.0 507.0 L798.0 503.3 L808.0 498.7 L819.0 495.4 L830.0 493.0 L841.0 490.0 L852.0 486.3 L863.0 482.0 L874.0 477.7 L885.0 475.5 L896.0 474.0 L906.0 473.5 L917.0 474.7 L928.0 477.7 L939.0 482.7 L950.0 485.7 L961.0 489.0 L972.0 491.7 L983.0 494.7 L993.0 500.0 L1004.0 503.6 L1015.0 507.5 L1026.0 512.5 L1037.0 517.5 L1048.0 522.7 L1059.0 528.3 L1070.0 533.3 L1081.0 536.2 L1091.0 538.3 L1102.0 541.7 L1113.0 546.2 L1124.0 548.5 L1135.0 550.5 L1146.0 551.0 L1157.0 553.7" fill="none" stroke="#fdd835" stroke-width="1.5" stroke-linejoin="round" stroke-linecap="round"/>
</g>
<text y="460.3" font-size="17.4" fill="#131722" stroke="#131722" stroke-width="0.4"><tspan x="26.7" textLength="24.2" lengthAdjust="spacingAndGlyphs">RSI</tspan> <tspan x="56.7" textLength="30.9" lengthAdjust="spacingAndGlyphs">(14,</tspan> <tspan x="92.9" textLength="48.9" lengthAdjust="spacingAndGlyphs">close)</tspan></text>
<text x="152.2" y="460.3" font-size="17.4" fill="#7e57c2" textLength="44.8" lengthAdjust="spacingAndGlyphs" stroke="#7e57c2" stroke-width="0.4">27.92</text>
<text x="207.6" y="460.3" font-size="17.4" fill="#fdd835" textLength="44.9" lengthAdjust="spacingAndGlyphs" stroke="#fdd835" stroke-width="0.4">30.95</text>
<g clip-path="url(#plot)">
<g shape-rendering="crispEdges">
<rect x="15.0" y="632" width="4.0" height="14" fill="#26a69a"/>
<rect x="20.3" y="632" width="9.8" height="14" fill="#b2dfdb"/>
<rect x="31.3" y="633" width="9.8" height="13" fill="#b2dfdb"/>
<rect x="42.3" y="638" width="8.8" height="8" fill="#b2dfdb"/>
<rect x="52.3" y="640" width="9.8" height="6" fill="#b2dfdb"/>
<rect x="63.3" y="641" width="9.8" height="5" fill="#b2dfdb"/>
<rect x="74.3" y="642" width="9.8" height="4" fill="#b2dfdb"/>
<rect x="85.3" y="645" width="9.8" height="8" fill="#ff5252"/>
<rect x="96.3" y="645" width="9.8" height="18" fill="#ff5252"/>
<rect x="107.3" y="645" width="9.8" height="20" fill="#ff5252"/>
<rect x="118.3" y="645" width="9.8" height="24" fill="#ff5252"/>
<rect x="129.3" y="645" width="9.8" height="21" fill="#ffcdd2"/>
<rect x="140.3" y="645" width="8.8" height="19" fill="#ffcdd2"/>
<rect x="150.3" y="645" width="9.8" height="13" fill="#ffcdd2"/>
<rect x="161.3" y="645" width="9.8" height="7" fill="#ffcdd2"/>
<rect x="172.3" y="645" width="9.8" height="8" fill="#ff5252"/>
<rect x="183.3" y="645" width="9.8" height="9" fill="#ff5252"/>
<rect x="194.3" y="645" width="9.8" height="12" fill="#ff5252"/>
<rect x="205.3" y="645" width="9.8" height="15" fill="#ff5252"/>
<rect x="216.3" y="645" width="9.8" height="16" fill="#ff5252"/>
<rect x="227.3" y="645" width="9.8" height="16" fill="#ffcdd2"/>
<rect x="238.3" y="645" width="8.8" height="17" fill="#ff5252"/>
<rect x="248.3" y="645" width="9.8" height="11" fill="#ffcdd2"/>
<rect x="259.3" y="645" width="9.8" height="8" fill="#ffcdd2"/>
<rect x="270.3" y="645" width="9.8" height="7" fill="#ffcdd2"/>
<rect x="281.3" y="645" width="9.8" height="7" fill="#ff5252"/>
<rect x="292.3" y="645" width="9.8" height="6" fill="#ffcdd2"/>
<rect x="303.3" y="645" width="9.8" height="3" fill="#ffcdd2"/>
<rect x="314.3" y="640" width="9.8" height="6" fill="#26a69a"/>
<rect x="325.3" y="635" width="8.8" height="11" fill="#26a69a"/>
<rect x="335.3" y="630" width="9.8" height="16" fill="#26a69a"/>
<rect x="346.3" y="627" width="9.8" height="19" fill="#26a69a"/>
<rect x="357.3" y="627" width="9.8" height="19" fill="#b2dfdb"/>
<rect x="368.3" y="628" width="9.8" height="18" fill="#b2dfdb"/>
<rect x="379.3" y="630" width="9.8" height="16" fill="#b2dfdb"/>
<rect x="390.3" y="635" width="9.8" height="11" fill="#b2dfdb"/>
<rect x="401.3" y="631" width="9.8" height="15" fill="#26a69a"/>
<rect x="412.3" y="627" width="9.8" height="19" fill="#26a69a"/>
<rect x="423.3" y="627" width="8.8" height="19" fill="#b2dfdb"/>
<rect x="433.3" y="630" width="9.8" height="16" fill="#b2dfdb"/>
<rect x="444.3" y="633" width="9.8" height="13" fill="#b2dfdb"/>
<rect x="455.3" y="634" width="9.8" height="12" fill="#b2dfdb"/>
<rect x="466.3" y="635" width="9.8" height="11" fill="#b2dfdb"/>
<rect x="477.3" y="633" width="9.8" height="13" fill="#26a69a"/>
<rect x="488.3" y="633" width="9.8" height="13" fill="#26a69a"/>
<rect x="499.3" y="633" width="9.8" height="13" fill="#b2dfdb"/>
<rect x="510.3" y="635" width="8.8" height="11" fill="#b2dfdb"/>
<rect x="520.3" y="637" width="9.8" height="9" fill="#b2dfdb"/>
<rect x="531.3" y="639" width="9.8" height="7" fill="#b2dfdb"/>
<rect x="542.3" y="641" width="9.8" height="5" fill="#b2dfdb"/>
<rect x="553.3" y="642" width="9.8" height="4" fill="#b2dfdb"/>
<rect x="564.3" y="645" width="9.8" height="1" fill="#ff5252"/>
<rect x="575.3" y="645" width="9.8" height="4" fill="#ff5252"/>
<rect x="586.3" y="645" width="9.8" height="3" fill="#ffcdd2"/>
<rect x="597.3" y="645" width="9.8" height="2" fill="#ffcdd2"/>
<rect x="608.3" y="644" width="8.8" height="2" fill="#26a69a"/>
<rect x="618.3" y="643" width="9.8" height="3" fill="#26a69a"/>
<rect x="629.3" y="643" width="9.8" height="3" fill="#b2dfdb"/>
<rect x="640.3" y="644" width="9.8" height="2" fill="#b2dfdb"/>
<rect x="651.3" y="645" width="9.8" height="1" fill="#ff5252"/>
<rect x="662.3" y="644" width="9.8" height="2" fill="#26a69a"/>
<rect x="673.3" y="642" width="9.8" height="4" fill="#26a69a"/>
<rect x="684.3" y="641" width="9.8" height="5" fill="#26a69a"/>
<rect x="695.3" y="641" width="8.8" height="5" fill="#26a69a"/>
<rect x="705.3" y="640" width="9.8" height="6" fill="#26a69a"/>
<rect x="716.3" y="639" width="9.8" height="7" fill="#26a69a"/>
<rect x="727.3" y="638" width="9.8" height="8" fill="#26a69a"/>
<rect x="738.3" y="634" width="9.8" height="12" fill="#26a69a"/>
<rect x="749.3" y="632" width="9.8" height="14" fill="#26a69a"/>
<rect x="760.3" y="631" width="9.8" height="15" fill="#26a69a"/>
<rect x="771.3" y="629" width="9.8" height="17" fill="#26a69a"/>
<rect x="782.3" y="627" width="9.8" height="19" fill="#26a69a"/>
<rect x="793.3" y="628" width="8.8" height="18" fill="#b2dfdb"/>
<rect x="803.3" y="629" width="9.8" height="17" fill="#b2dfdb"/>
<rect x="814.3" y="632" width="9.8" height="14" fill="#b2dfdb"/>
<rect x="825.3" y="634" width="9.8" height="12" fill="#b2dfdb"/>
<rect x="836.3" y="634" width="9.8" height="12" fill="#b2dfdb"/>
<rect x="847.3" y="635" width="9.8" height="11" fill="#b2dfdb"/>
<rect x="858.3" y="634" width="9.8" height="12" fill="#26a69a"/>
<rect x="869.3" y="632" width="9.8" height="14" fill="#26a69a"/>
<rect x="880.3" y="635" width="9.8" height="11" fill="#b2dfdb"/>
<rect x="891.3" y="635" width="8.8" height="11" fill="#b2dfdb"/>
<rect x="901.3" y="637" width="9.8" height="9" fill="#b2dfdb"/>
<rect x="912.3" y="642" width="9.8" height="4" fill="#b2dfdb"/>
<rect x="923.3" y="645" width="9.8" height="3" fill="#ff5252"/>
<rect x="934.3" y="645" width="9.8" height="10" fill="#ff5252"/>
<rect x="945.3" y="645" width="9.8" height="12" fill="#ff5252"/>
<rect x="956.3" y="645" width="9.8" height="14" fill="#ff5252"/>
<rect x="967.3" y="645" width="9.8" height="15" fill="#ff5252"/>
<rect x="978.3" y="645" width="8.8" height="15" fill="#ff5252"/>
<rect x="988.3" y="645" width="9.8" height="18" fill="#ff5252"/>
<rect x="999.3" y="645" width="9.8" height="16" fill="#ffcdd2"/>
<rect x="1010.3" y="645" width="9.8" height="13" fill="#ffcdd2"/>
<rect x="1021.3" y="645" width="9.8" height="12" fill="#ffcdd2"/>
<rect x="1032.3" y="645" width="9.8" height="13" fill="#ff5252"/>
<rect x="1043.3" y="645" width="9.8" height="14" fill="#ff5252"/>
<rect x="1054.3" y="645" width="9.8" height="19" fill="#ff5252"/>
<rect x="1065.3" y="645" width="9.8" height="23" fill="#ff5252"/>
<rect x="1076.3" y="645" width="8.8" height="23" fill="#ffcdd2"/>
<rect x="1086.3" y="645" width="9.8" height="24" fill="#ff5252"/>
<rect x="1097.3" y="645" width="9.8" height="26" fill="#ff5252"/>
<rect x="1108.3" y="645" width="9.8" height="32" fill="#ff5252"/>
<rect x="1119.3" y="645" width="9.8" height="30" fill="#ffcdd2"/>
<rect x="1130.3" y="645" width="9.8" height="26" fill="#ffcdd2"/>
<rect x="1141.3" y="645" width="9.8" height="22" fill="#ffcdd2"/>
<rect x="1152.3" y="645" width="9.8" height="19" fill="#ffcdd2"/>
</g>
<path d="M15 645.5H1271" stroke="#9598a1" stroke-width="1" stroke-dasharray="5 6" fill="none" shape-rendering="crispEdges" opacity="0.75"/>
<path d="M14.0 681.3 L25.0 678.8 L36.0 676.7 L47.0 679.8 L57.0 680.5 L68.0 681.3 L79.0 680.5 L90.0 692.5 L101.0 707.8 L112.0 714.3 L123.0 723.3 L134.0 725.7 L145.0 728.7 L155.0 725.8 L166.0 721.3 L177.0 724.5 L188.0 726.7 L199.0 732.8 L210.0 739.8 L221.0 744.2 L232.0 748.3 L243.0 753.0 L253.0 750.0 L264.0 748.7 L275.0 748.7 L286.0 750.0 L297.0 751.0 L308.0 748.0 L319.0 740.0 L330.0 733.3 L340.0 723.7 L351.0 716.3 L362.0 711.7 L373.0 709.2 L384.0 707.5 L395.0 709.7 L406.0 701.8 L417.0 693.7 L428.0 689.3 L438.0 689.2 L449.0 688.3 L460.0 687.8 L471.0 686.2 L482.0 681.3 L493.0 678.0 L504.0 675.8 L515.0 675.7 L525.0 674.5 L536.0 675.8 L547.0 677.2 L558.0 677.3 L569.0 680.8 L580.0 684.7 L591.0 683.3 L602.0 682.5 L613.0 680.8 L623.0 679.6 L634.0 679.3 L645.0 679.8 L656.0 680.7 L667.0 679.5 L678.0 677.2 L689.0 674.5 L700.0 673.3 L710.0 671.3 L721.0 669.7 L732.0 666.3 L743.0 659.7 L754.0 654.2 L765.0 650.0 L776.0 643.3 L787.0 637.0 L798.0 634.8 L808.0 632.0 L819.0 631.3 L830.0 631.3 L841.0 628.8 L852.0 627.5 L863.0 622.5 L874.0 618.3 L885.0 618.3 L896.0 616.7 L906.0 616.3 L917.0 620.8 L928.0 625.8 L939.0 635.3 L950.0 640.7 L961.0 645.8 L972.0 649.5 L983.0 653.0 L993.0 660.3 L1004.0 663.3 L1015.0 663.4 L1026.0 664.5 L1037.0 669.5 L1048.0 673.3 L1059.0 682.8 L1070.0 692.7 L1081.0 697.7 L1091.0 705.5 L1102.0 713.3 L1113.0 727.7 L1124.0 732.2 L1135.0 734.7 L1146.0 735.7 L1157.0 738.2" fill="none" stroke="#2962ff" stroke-width="1.5" stroke-linejoin="round" stroke-linecap="round"/>
<path d="M14.0 693.8 L25.0 691.0 L36.0 688.0 L47.0 686.5 L57.0 685.3 L68.0 684.7 L79.0 684.0 L90.0 685.8 L101.0 690.3 L112.0 695.0 L123.0 700.8 L134.0 705.8 L145.0 710.2 L155.0 713.3 L166.0 715.0 L177.0 716.8 L188.0 718.8 L199.0 721.4 L210.0 725.4 L221.0 729.4 L232.0 733.3 L243.0 736.8 L253.0 739.5 L264.0 741.3 L275.0 742.8 L286.0 744.3 L297.0 745.5 L308.0 745.8 L319.0 745.0 L330.0 742.8 L340.0 739.0 L351.0 734.7 L362.0 730.0 L373.0 726.3 L384.0 722.5 L395.0 719.7 L406.0 716.0 L417.0 712.0 L428.0 707.2 L438.0 703.3 L449.0 700.3 L460.0 698.0 L471.0 695.5 L482.0 692.5 L493.0 689.7 L504.0 687.2 L515.0 684.7 L525.0 682.7 L536.0 681.3 L547.0 680.7 L558.0 680.2 L569.0 680.3 L580.0 681.2 L591.0 681.5 L602.0 681.7 L613.0 681.3 L623.0 681.0 L634.0 680.8 L645.0 680.7 L656.0 680.7 L667.0 680.3 L678.0 679.8 L689.0 679.0 L700.0 678.0 L710.0 676.7 L721.0 675.3 L732.0 673.3 L743.0 670.5 L754.0 667.2 L765.0 663.8 L776.0 659.5 L787.0 655.0 L798.0 651.1 L808.0 647.5 L819.0 644.3 L830.0 641.7 L841.0 639.2 L852.0 636.7 L863.0 633.8 L874.0 630.8 L885.0 628.3 L896.0 626.2 L906.0 624.3 L917.0 623.5 L928.0 624.2 L939.0 626.2 L950.0 629.0 L961.0 632.2 L972.0 635.3 L983.0 638.8 L993.0 643.3 L1004.0 647.8 L1015.0 650.8 L1026.0 653.7 L1037.0 657.0 L1048.0 660.5 L1059.0 664.7 L1070.0 670.0 L1081.0 675.8 L1091.0 682.0 L1102.0 687.5 L1113.0 695.0 L1124.0 702.8 L1135.0 709.7 L1146.0 714.2 L1157.0 719.2" fill="none" stroke="#ff6d00" stroke-width="1.5" stroke-linejoin="round" stroke-linecap="round"/>
</g>
<text y="629.2" font-size="17.4" fill="#131722" stroke="#131722" stroke-width="0.4"><tspan x="26.7" textLength="45.3" lengthAdjust="spacingAndGlyphs">MACD</tspan> <tspan x="78.3" textLength="50.6" lengthAdjust="spacingAndGlyphs">(close,</tspan> <tspan x="136.7" textLength="24.4" lengthAdjust="spacingAndGlyphs">12,</tspan> <tspan x="168.0" textLength="25.4" lengthAdjust="spacingAndGlyphs">26,</tspan> <tspan x="200.3" textLength="14.6" lengthAdjust="spacingAndGlyphs">9)</tspan></text>
<text x="226.1" y="629.2" font-size="17.4" fill="#ffcdd2" textLength="44.1" lengthAdjust="spacingAndGlyphs" stroke="#ffcdd2" stroke-width="0.4">−2.52</text>
<text x="281.1" y="629.2" font-size="17.4" fill="#2962ff" textLength="53.6" lengthAdjust="spacingAndGlyphs" stroke="#2962ff" stroke-width="0.4">−12.58</text>
<text x="346.2" y="629.2" font-size="17.4" fill="#ff6d00" textLength="53.6" lengthAdjust="spacingAndGlyphs" stroke="#ff6d00" stroke-width="0.4">−10.06</text>
<text x="1285.0" y="113" font-size="17.4" fill="#131722" textLength="53.9" lengthAdjust="spacingAndGlyphs" stroke="#131722" stroke-width="0.4">180.00</text>
<text x="1285.0" y="165" font-size="17.4" fill="#131722" textLength="53.9" lengthAdjust="spacingAndGlyphs" stroke="#131722" stroke-width="0.4">160.00</text>
<text x="1285.0" y="217" font-size="17.4" fill="#131722" textLength="53.9" lengthAdjust="spacingAndGlyphs" stroke="#131722" stroke-width="0.4">140.00</text>
<text x="1285.0" y="269" font-size="17.4" fill="#131722" textLength="53.9" lengthAdjust="spacingAndGlyphs" stroke="#131722" stroke-width="0.4">120.00</text>
<text x="1285.0" y="321" font-size="17.4" fill="#131722" textLength="53.9" lengthAdjust="spacingAndGlyphs" stroke="#131722" stroke-width="0.4">100.00</text>
<text x="1285.0" y="373" font-size="17.4" fill="#131722" textLength="44.8" lengthAdjust="spacingAndGlyphs" stroke="#131722" stroke-width="0.4">80.00</text>
<text x="1285.0" y="423.8" font-size="17.4" fill="#131722" textLength="44.8" lengthAdjust="spacingAndGlyphs" stroke="#131722" stroke-width="0.4">60.00</text>
<text x="1284.8" y="481.6" font-size="17.4" fill="#131722" textLength="44.8" lengthAdjust="spacingAndGlyphs" stroke="#131722" stroke-width="0.4">60.00</text>
<text x="1284.8" y="535.6" font-size="17.4" fill="#131722" textLength="44.8" lengthAdjust="spacingAndGlyphs" stroke="#131722" stroke-width="0.4">40.00</text>
<text x="1284.8" y="590" font-size="17.4" fill="#131722" textLength="44.8" lengthAdjust="spacingAndGlyphs" stroke="#131722" stroke-width="0.4">20.00</text>
<text x="1284.6" y="650" font-size="17.4" fill="#131722" textLength="35.6" lengthAdjust="spacingAndGlyphs" stroke="#131722" stroke-width="0.4">0.00</text>
<rect x="1277" y="47" width="68" height="38" rx="5" ry="5" fill="#fff" stroke="#ebebeb" stroke-width="1"/>
<text x="1290.9" y="71.3" font-size="17.4" fill="#131722" textLength="31.7" lengthAdjust="spacingAndGlyphs" stroke="#131722" stroke-width="0.4">USD</text>
<path d="M1272 344H1334a3 3 0 0 1 3 3V368a3 3 0 0 1 -3 3H1272Z" fill="#f23645"/>
<text x="1284.2" y="363.5" font-size="17.4" fill="#fff" textLength="45.6" lengthAdjust="spacingAndGlyphs" stroke="#fff" stroke-width="0.75">83.24</text>
<path d="M1272 524H1334a3 3 0 0 1 3 3V547.6a3 3 0 0 1 -3 3H1272Z" fill="#fdd835"/>
<text x="1284.8" y="544" font-size="17.4" fill="#000" textLength="44.8" lengthAdjust="spacingAndGlyphs" stroke="#000" stroke-width="0.75">30.95</text>
<path d="M1272 550.6H1334a3 3 0 0 1 3 3V572.6a3 3 0 0 1 -3 3H1272Z" fill="#7e57c2"/>
<text x="1284.8" y="568.6" font-size="17.4" fill="#fff" textLength="44.8" lengthAdjust="spacingAndGlyphs" stroke="#fff" stroke-width="0.75">27.92</text>
<path d="M1272 650H1334a3 3 0 0 1 3 3V673.7a3 3 0 0 1 -3 3H1272Z" fill="#ffcdd2"/>
<text x="1285.2" y="669.6" font-size="17.4" fill="#000" textLength="44.1" lengthAdjust="spacingAndGlyphs" stroke="#000" stroke-width="0.75">−2.52</text>
<path d="M1272 705.8H1343a3 3 0 0 1 3 3V729.6a3 3 0 0 1 -3 3H1272Z" fill="#ff6d00"/>
<text x="1285.2" y="725.3" font-size="17.4" fill="#fff" textLength="53.4" lengthAdjust="spacingAndGlyphs" stroke="#fff" stroke-width="0.75">−10.06</text>
<path d="M1272 732.6H1343a3 3 0 0 1 3 3V755.8a3 3 0 0 1 -3 3H1272Z" fill="#2962ff"/>
<text x="1285.2" y="751.4" font-size="17.4" fill="#fff" textLength="53.4" lengthAdjust="spacingAndGlyphs" stroke="#fff" stroke-width="0.75">−12.58</text>
<text x="53.2" y="795.7" font-size="16" fill="#131722" textLength="30.7" lengthAdjust="spacingAndGlyphs" stroke="#131722" stroke-width="0.4">Nov</text>
<text x="379.2" y="795.7" font-size="16" fill="#131722" textLength="30.4" lengthAdjust="spacingAndGlyphs" stroke="#131722" stroke-width="0.4">Dec</text>
<text x="712.3" y="795.7" font-size="16" fill="#131722" textLength="40.4" lengthAdjust="spacingAndGlyphs" font-weight="bold">2026</text>
<text x="1054.7" y="795.7" font-size="16" fill="#131722" textLength="29.7" lengthAdjust="spacingAndGlyphs" stroke="#131722" stroke-width="0.4">Feb</text>
<g fill="#131313"><path d="M18 842.9H35.7V865.6H26.7V851.5H18Z"/><circle cx="42.9" cy="847.3" r="4.3"/><path d="M50.3 842.9H62.9L55.6 865.6H43.9Z"/></g>
<text x="73.2" y="865.6" font-size="31" fill="#131313" textLength="181.2" lengthAdjust="spacingAndGlyphs" font-weight="bold">TradingView</text>
</svg>
</body></html>
